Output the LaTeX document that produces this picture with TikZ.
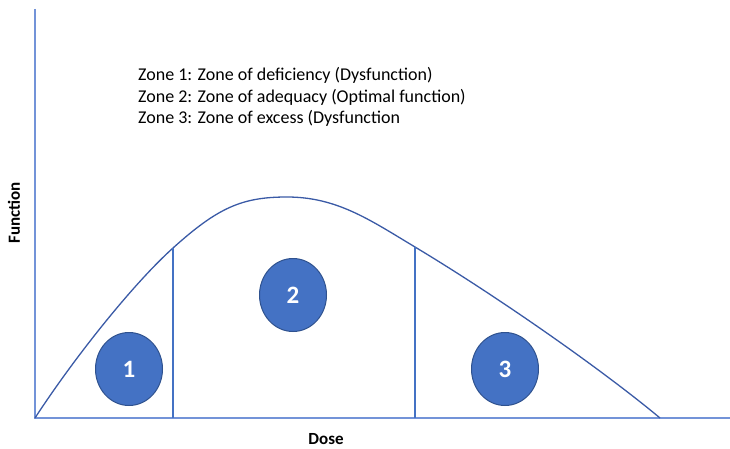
\documentclass[tikz,border=0pt]{standalone}
\usepackage{fontspec}
\setmainfont{Carlito}
\usepackage{tikz}
\usetikzlibrary{shapes.geometric}
\definecolor{axisblue}{HTML}{7393D8}
\definecolor{zoneblue}{HTML}{4472C4}
\definecolor{rimblue}{HTML}{2F528F}
\definecolor{curveblue}{HTML}{3A5AA6}

\begin{document}
\begin{tikzpicture}
                     [x=1pt,y=-1pt,every node/.style={inner sep=0pt},
                      axis/.style={axisblue, line width=1.8pt},
                      divider/.style={zoneblue, line width=1.2pt},
                      zone/.style={ellipse, draw=rimblue, fill=zoneblue, line width=1pt,
                                   minimum width=67pt, minimum height=73pt,
                                   text=white, font=\bfseries\fontsize{25}{25}\selectfont},
                      legend/.style={anchor=west, font=\fontsize{18}{18}\selectfont},
                      axlabel/.style={font=\bfseries\fontsize{17}{17}\selectfont}]
                     \useasboundingbox (0,0) rectangle (730,449);
                     % axes
                     \coordinate (o) at (35,418);
                     \coordinate (ytop) at (35,9);
                     \coordinate (xend) at (730,418);
                     \draw[axis] (ytop) -- (o) -- (xend);
                     \node[axlabel, rotate=90] (ylab) at (14,213) {Function};
                     \node[axlabel] (xlab) at (326,439) {Dose};
                     % curve
                     \coordinate (z1) at (173,248);
                     \coordinate (peak) at (287,197);
                     \coordinate (z2) at (415,247);
                     \coordinate (stop) at (660,418);
                     \draw[curveblue, line width=1.3pt] (o) .. controls (74,358) and (133,284) .. (z1)
                       .. controls (218,207.5) and (242,197) .. (peak)
                       .. controls (337,197) and (370,220) .. (z2)
                       .. controls (495,295) and (600,368) .. (stop);
                     % zone borders
                     \coordinate (f1) at (173,418);
                     \coordinate (f2) at (415,418);
                     \draw[divider] (z1) -- (f1);
                     \draw[divider] (z2) -- (f2);
                     % zones
                     \node[zone] (one) at (129,369) {1};
                     \node[zone] (two) at (293,295) {2};
                     \node[zone] (three) at (505,369) {3};
                     % legend
                     \node[legend] (l1) at (138,75) {Zone 1: Zone of deficiency (Dysfunction)};
                     \node[legend] (l2) at (138,97) {Zone 2: Zone of adequacy (Optimal function)};
                     \node[legend] (l3) at (138,118) {Zone 3: Zone of excess (Dysfunction};
\end{tikzpicture}
\end{document}
